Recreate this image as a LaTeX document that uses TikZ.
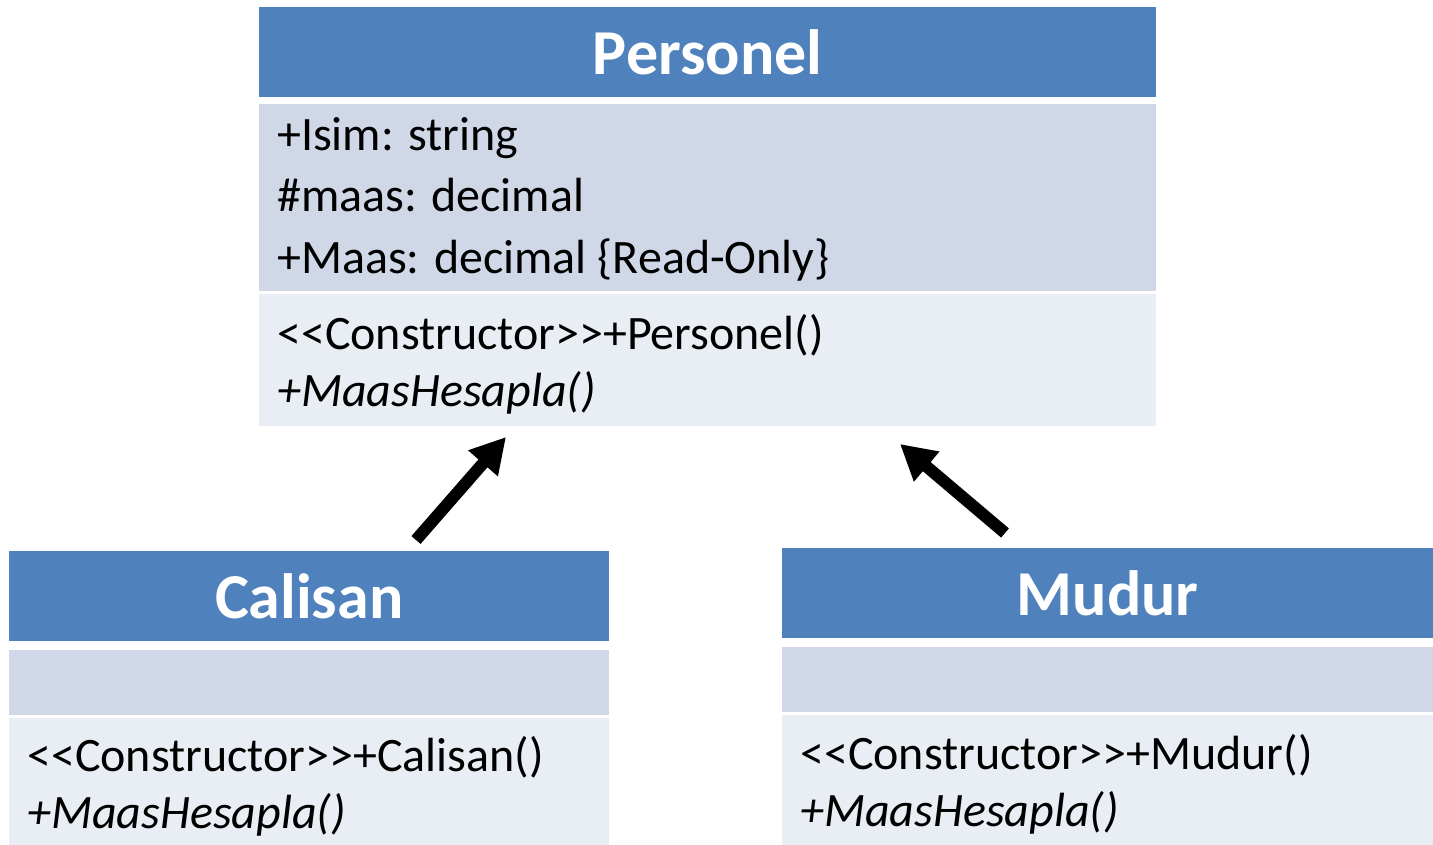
\documentclass[tikz,border=0pt]{standalone}
\usepackage{fontspec}
\setmainfont{Carlito}
\usetikzlibrary{arrows.meta}
\definecolor{headblue}{HTML}{4F81BD}
\definecolor{attrgray}{HTML}{D0D8E8}
\definecolor{methgray}{HTML}{E9EDF4}
\tikzset{
  head/.style={fill=headblue,draw=none,anchor=north west,inner sep=0pt},
  title/.style={text=white,inner sep=0pt,font=\fontsize{64}{64}\selectfont\bfseries},
  attr/.style={fill=attrgray,draw=none,anchor=north west,inner sep=0pt},
  meth/.style={fill=methgray,draw=none,anchor=north west,inner sep=0pt},
  member/.style={anchor=base west,inner sep=0pt,font=\fontsize{48}{48}\selectfont},
  inherit/.style={line width=12pt,-{Triangle[length=35pt,width=37pt]}}
}
\begin{document}
\begin{tikzpicture}[x=1pt,y=-1pt]
\useasboundingbox (0,0) rectangle (1433,845);
\node[head,minimum width=897pt,minimum height=90pt](persHead) at (259,7){};
\node[title](persName) at (persHead.center){Personel};
\node[attr,minimum width=897pt,minimum height=187pt](persAttr) at (259,104){};
\node[meth,minimum width=897pt,minimum height=132pt](persMeth) at (259,294){};
\node[member](pa1) at ([shift={(18,47)}]persAttr.north west){+Isim: string};
\node[member](pa2) at ([shift={(18,108)}]persAttr.north west){\#maas: decimal};
\node[member](pa3) at ([shift={(18,169)}]persAttr.north west){+Maas: decimal \{Read-Only\}};
\node[member](pm1) at ([shift={(18,55)}]persMeth.north west){<{}<Constructor>{}>+Personel()};
\node[member](pm2) at ([shift={(18,112)}]persMeth.north west){\itshape +MaasHesapla()};
\node[head,minimum width=600pt,minimum height=90pt](calHead) at (9,551){};
\node[title](calName) at (calHead.center){Calisan};
\node[attr,minimum width=600pt,minimum height=65pt](calAttr) at (9,650){};
\node[meth,minimum width=600pt,minimum height=127pt](calMeth) at (9,718){};
\node[member](cm1) at ([shift={(18,53)}]calMeth.north west){<{}<Constructor>{}>+Calisan()};
\node[member](cm2) at ([shift={(18,110)}]calMeth.north west){\itshape +MaasHesapla()};
\node[head,minimum width=651pt,minimum height=90pt](mudHead) at (782,548){};
\node[title](mudName) at (mudHead.center){Mudur};
\node[attr,minimum width=651pt,minimum height=65pt](mudAttr) at (782,647){};
\node[meth,minimum width=651pt,minimum height=130pt](mudMeth) at (782,715){};
\node[member](mm1) at ([shift={(18,54)}]mudMeth.north west){<{}<Constructor>{}>+Mudur()};
\node[member](mm2) at ([shift={(18,111)}]mudMeth.north west){\itshape +MaasHesapla()};
\coordinate(calTail) at (416,540);
\coordinate(calTip) at (506,437);
\coordinate(mudTail) at (1005,533);
\coordinate(mudTip) at (900,444);
\draw[inherit](calTail)--(calTip);
\draw[inherit](mudTail)--(mudTip);
\end{tikzpicture}
\end{document}
